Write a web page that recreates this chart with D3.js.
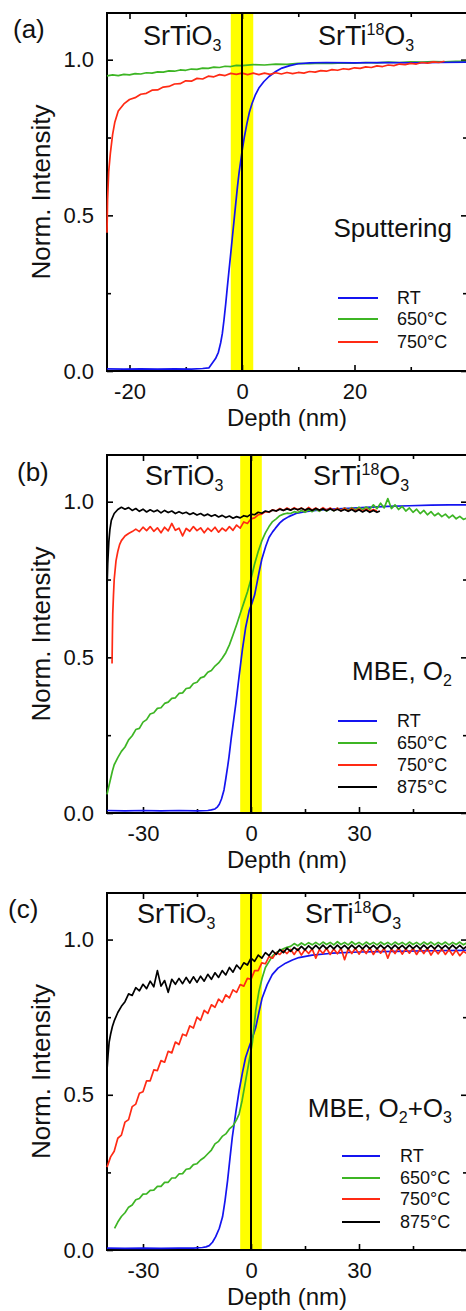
<!DOCTYPE html>
<html><head><meta charset="utf-8">
<script src="https://cdn.jsdelivr.net/npm/d3@7"></script>
<style>
html,body{margin:0;padding:0;background:#fff;}
svg{display:block;font-family:"Liberation Sans",Arial,Helvetica,sans-serif;}
</style></head><body>
<svg id="chart" width="466" height="1311"></svg>
<script>
// ---------------- DATA (depth nm, normalized intensity) ----------------
const seriesNames = ["RT", "650°C", "750°C", "875°C"];
const yMajorTicks = [0, 0.5, 1.0];
const yMinorTicks = [0.25, 0.75];
const xMajorTicksA = [-20, 0, 20];
const xMinorTicksA = [-10, 10, 30];
const xMajorTicksBC = [-30, 0, 30];
const xMinorTicksBC = [-15, 15, 45];

// (a) Sputtering
const a_RT = [[-24,0.007],[-21,0.006],[-18,0.007],[-15,0.006],[-12,0.007],[-9,0.006],[-7,0.008],[-5.9,0.01],[-5.3,0.025],[-4.7,0.04],[-4.2,0.06],[-3.8,0.09],[-3.5,0.12],[-3.2,0.164],[-2.9,0.215],[-2.6,0.271],[-2.3,0.325],[-2,0.378],[-1.7,0.432],[-1.4,0.486],[-1.1,0.54],[-0.8,0.593],[-0.5,0.64],[-0.2,0.678],[0,0.705],[0.4,0.75],[0.9,0.797],[1.3,0.83],[1.8,0.86],[2.4,0.888],[3,0.909],[3.9,0.93],[4.8,0.946],[6,0.962],[7.1,0.973],[8.5,0.981],[10,0.987],[12,0.99],[15,0.991],[20,0.99],[25,0.991],[30,0.99],[35,0.991],[40,0.992]];
const a_650 = [[-24,0.948],[-23,0.951],[-22,0.949],[-21,0.953],[-20,0.951],[-19,0.955],[-18,0.954],[-17,0.958],[-16,0.957],[-15,0.961],[-14,0.96],[-13,0.964],[-12,0.963],[-11,0.967],[-10,0.966],[-9,0.97],[-8,0.969],[-7,0.973],[-6,0.972],[-5,0.976],[-4,0.975],[-3,0.979],[-2,0.978],[-1,0.982],[0,0.981],[2,0.984],[4,0.983],[6,0.986],[8,0.985],[10,0.988],[12,0.987],[14,0.989],[16,0.988],[18,0.99],[20,0.989],[22,0.991],[24,0.99],[26,0.992],[28,0.991],[30,0.993],[32,0.992],[34,0.994],[36,0.993],[38,0.995],[40,0.995]];
const a_750 = [[-24,0.444],[-23.9,0.55],[-23.7,0.64],[-23.4,0.7],[-23,0.76],[-22.6,0.8],[-22,0.835],[-21,0.858],[-20,0.872],[-19,0.878],[-18,0.889],[-17,0.892],[-16,0.902],[-15,0.903],[-14,0.912],[-13,0.914],[-12,0.922],[-11,0.923],[-10,0.932],[-9,0.931],[-8,0.94],[-7,0.938],[-6,0.947],[-5,0.945],[-4,0.952],[-3,0.949],[-2,0.956],[-1,0.953],[0,0.957],[1,0.952],[2,0.957],[3,0.952],[4,0.957],[5,0.953],[6,0.958],[7,0.954],[8,0.959],[9,0.955],[10,0.959],[11,0.957],[12,0.962],[13,0.96],[14,0.965],[15,0.963],[16,0.968],[17,0.966],[18,0.971],[19,0.969],[20,0.974],[21,0.972],[22,0.977],[23,0.975],[24,0.98],[25,0.978],[26,0.983],[27,0.981],[28,0.986],[29,0.984],[30,0.988],[31,0.986],[32,0.991],[33,0.989],[34,0.993],[35,0.991],[36,0.995]];

// (b) MBE, O2
const b_RT = [[-40,0.008],[-35,0.007],[-30,0.008],[-25,0.007],[-20,0.008],[-15,0.007],[-12,0.008],[-11,0.01],[-10,0.013],[-9.3,0.02],[-8.8,0.028],[-8.2,0.045],[-7.5,0.074],[-7,0.11],[-6.5,0.148],[-6.1,0.181],[-5.5,0.24],[-4.8,0.3],[-4.2,0.352],[-3.3,0.44],[-2.4,0.524],[-1.5,0.595],[-0.5,0.65],[0.3,0.675],[1,0.7],[1.6,0.735],[2.2,0.771],[3,0.815],[4.1,0.857],[5,0.885],[6,0.903],[6.8,0.915],[8,0.932],[9,0.942],[10.5,0.952],[12.5,0.962],[15,0.968],[18,0.972],[22.5,0.976],[27,0.979],[32,0.982],[38,0.985],[44,0.987],[50,0.989],[55,0.99],[60,0.99]];
const b_650 = [[-40,0.06],[-39.7,0.075],[-39.3,0.095],[-39,0.11],[-38.5,0.135],[-38,0.155],[-37,0.178],[-36,0.198],[-35,0.212],[-34,0.235],[-33,0.248],[-32,0.268],[-31,0.272],[-30,0.292],[-29,0.3],[-28,0.318],[-27,0.322],[-26,0.336],[-25,0.338],[-24,0.352],[-23,0.356],[-22,0.368],[-21,0.37],[-20,0.384],[-19,0.386],[-18,0.4],[-17,0.402],[-16,0.416],[-15,0.42],[-14,0.434],[-13,0.438],[-12,0.452],[-11,0.458],[-10,0.472],[-9,0.482],[-8,0.497],[-7,0.515],[-6,0.54],[-5,0.572],[-4,0.605],[-3,0.64],[-2,0.675],[-1,0.71],[0,0.752],[1,0.8],[2,0.84],[3,0.874],[4,0.9],[5,0.92],[6,0.936],[7,0.945],[8,0.955],[9,0.96],[10,0.963],[11,0.962],[12,0.968],[13,0.965],[14,0.972],[15,0.966],[16,0.974],[17,0.968],[18,0.976],[19,0.969],[20,0.977],[21,0.97],[22,0.978],[23,0.971],[24,0.979],[25,0.972],[26,0.98],[27,0.973],[28,0.981],[29,0.974],[30,0.982],[31,0.975],[32,0.983],[33,0.976],[34,0.99],[35,0.978],[36,0.995],[37,0.98],[38,1.01],[39,0.978],[40,0.99],[41,0.975],[42,0.985],[43,0.97],[44,0.98],[45,0.966],[46,0.976],[47,0.962],[48,0.972],[49,0.958],[50,0.968],[51,0.955],[52,0.963],[53,0.952],[54,0.96],[55,0.948],[56,0.957],[57,0.945],[58,0.953],[59,0.943],[60,0.948]];
const b_750 = [[-38.6,0.48],[-38.5,0.57],[-38.4,0.64],[-38.2,0.7],[-38,0.75],[-37.5,0.81],[-37,0.84],[-36.5,0.862],[-36,0.875],[-35,0.89],[-34,0.898],[-33,0.904],[-32,0.912],[-31,0.904],[-30,0.918],[-29,0.907],[-28,0.92],[-27,0.905],[-26,0.916],[-25,0.9],[-24,0.918],[-23,0.906],[-22,0.93],[-21,0.908],[-20,0.915],[-19,0.89],[-18,0.914],[-17,0.905],[-16,0.92],[-15,0.907],[-14,0.916],[-13,0.9],[-12,0.915],[-11,0.905],[-10,0.918],[-9,0.902],[-8,0.915],[-7,0.906],[-6,0.92],[-5,0.908],[-4,0.925],[-3,0.915],[-2,0.935],[-1,0.93],[0,0.945],[1,0.948],[2,0.958],[3,0.96],[4,0.968],[5,0.966],[6,0.974],[7,0.97],[8,0.978],[9,0.972],[10,0.98],[11,0.973],[12,0.981],[13,0.974],[14,0.98],[15,0.972],[16,0.982],[17,0.973],[18,0.98],[19,0.972],[20,0.981],[21,0.973],[22,0.98],[23,0.972],[24,0.979],[25,0.971],[26,0.979],[27,0.97],[28,0.978],[29,0.97],[30,0.977],[31,0.969],[32,0.977],[33,0.969],[34,0.975],[35,0.97]];
const b_875 = [[-40,0.72],[-39.8,0.8],[-39.5,0.87],[-39.2,0.91],[-38.8,0.94],[-38,0.962],[-37,0.975],[-36,0.982],[-35,0.976],[-34,0.981],[-33,0.972],[-32,0.978],[-31,0.969],[-30,0.976],[-29,0.967],[-28,0.974],[-27,0.968],[-26,0.973],[-25,0.964],[-24,0.972],[-23,0.965],[-22,0.97],[-21,0.962],[-20,0.968],[-19,0.962],[-18,0.966],[-17,0.959],[-16,0.964],[-15,0.957],[-14,0.962],[-13,0.955],[-12,0.96],[-11,0.953],[-10,0.958],[-9,0.951],[-8,0.956],[-7,0.949],[-6,0.954],[-5,0.947],[-4,0.952],[-3,0.948],[-2,0.955],[-1,0.952],[0,0.96],[1,0.958],[2,0.966],[3,0.963],[4,0.97],[5,0.967],[6,0.973],[7,0.97],[8,0.976],[9,0.972],[10,0.977],[11,0.973],[12,0.978],[13,0.974],[14,0.979],[15,0.973],[16,0.978],[17,0.972],[18,0.978],[19,0.973],[20,0.977],[21,0.971],[22,0.977],[23,0.971],[24,0.976],[25,0.97],[26,0.975],[27,0.969],[28,0.975],[29,0.968],[30,0.974],[31,0.967],[32,0.973],[33,0.966],[34,0.972],[35,0.966],[35.8,0.97]];

// (c) MBE, O2+O3
const c_RT = [[-40,0.006],[-35,0.005],[-30,0.006],[-25,0.005],[-20,0.006],[-16,0.006],[-13.5,0.008],[-12.5,0.01],[-11.6,0.014],[-10.7,0.025],[-9.8,0.043],[-8.8,0.07],[-7.9,0.107],[-7.2,0.16],[-6.5,0.224],[-5.8,0.3],[-5.2,0.363],[-4.2,0.445],[-3.3,0.513],[-2.4,0.57],[-1.5,0.62],[-0.5,0.655],[0.4,0.684],[1.3,0.716],[2.2,0.765],[3.1,0.812],[4.5,0.855],[5.9,0.887],[7.5,0.908],[9.6,0.924],[11.5,0.934],[13.3,0.942],[17,0.95],[22.5,0.956],[30,0.96],[40,0.962],[50,0.964],[60,0.965]];
const c_650 = [[-37.9,0.07],[-37,0.09],[-36,0.108],[-35,0.12],[-34,0.138],[-33,0.145],[-32,0.162],[-31,0.166],[-30,0.18],[-29,0.181],[-28,0.192],[-27,0.193],[-26,0.205],[-25,0.205],[-24,0.218],[-23,0.218],[-22,0.232],[-21,0.232],[-20,0.245],[-19,0.246],[-18,0.26],[-17,0.262],[-16,0.275],[-15,0.278],[-14,0.29],[-13,0.298],[-12,0.31],[-11,0.322],[-10,0.342],[-9,0.35],[-8,0.366],[-7,0.374],[-6,0.39],[-5,0.4],[-4,0.42],[-3.3,0.438],[-2.5,0.48],[-1.5,0.545],[-0.5,0.61],[0.4,0.67],[1.3,0.77],[2.2,0.833],[3.1,0.876],[4,0.91],[5,0.929],[6,0.948],[7,0.958],[8,0.965],[9,0.97],[10,0.975],[11,0.978],[12,0.987],[13,0.98],[14,0.989],[15,0.982],[16,0.99],[17,0.983],[18,0.991],[19,0.983],[20,0.992],[21,0.984],[22,0.991],[23,0.983],[24,0.993],[25,0.984],[26,0.991],[27,0.983],[28,0.993],[29,0.984],[30,0.991],[31,0.983],[32,0.992],[33,0.984],[34,0.991],[35,0.983],[36,0.992],[37,0.984],[38,0.991],[39,0.983],[40,0.992],[41,0.984],[42,0.991],[43,0.983],[44,0.992],[45,0.984],[46,0.991],[47,0.983],[48,0.992],[49,0.984],[50,0.992],[51,0.983],[52,0.991],[53,0.984],[54,0.992],[55,0.983],[56,0.991],[57,0.984],[58,0.992],[59,0.983],[60,0.99]];
const c_750 = [[-40,0.267],[-39,0.3],[-38,0.318],[-37,0.36],[-36,0.37],[-35,0.412],[-34,0.42],[-33,0.462],[-32,0.47],[-31,0.505],[-30,0.51],[-29,0.545],[-28,0.545],[-27,0.58],[-26,0.578],[-25,0.61],[-24,0.605],[-23,0.64],[-22,0.635],[-21,0.67],[-20,0.662],[-19,0.695],[-18,0.69],[-17,0.722],[-16,0.715],[-15,0.75],[-14,0.74],[-13,0.772],[-12,0.762],[-11,0.79],[-10,0.782],[-9,0.808],[-8,0.798],[-7,0.822],[-6,0.812],[-5,0.838],[-4,0.83],[-3,0.855],[-2,0.85],[-1,0.875],[0,0.872],[1,0.9],[2,0.9],[3,0.925],[4,0.922],[5,0.945],[6,0.94],[7,0.958],[8,0.952],[9,0.965],[10,0.955],[11,0.968],[12,0.952],[13,0.97],[14,0.95],[15,0.968],[16,0.955],[17,0.97],[18,0.94],[19,0.968],[20,0.955],[21,0.972],[22,0.952],[23,0.97],[24,0.954],[25,0.972],[26,0.935],[27,0.97],[28,0.955],[29,0.972],[30,0.953],[31,0.97],[32,0.955],[33,0.973],[34,0.952],[35,0.97],[36,0.956],[37,0.972],[38,0.94],[39,0.97],[40,0.955],[41,0.973],[42,0.953],[43,0.97],[44,0.956],[45,0.972],[46,0.952],[47,0.97],[48,0.955],[49,0.972],[50,0.95],[51,0.968],[52,0.954],[53,0.97],[54,0.952],[55,0.968],[56,0.95],[57,0.966],[58,0.948],[59,0.962],[60,0.955]];
const c_875 = [[-40,0.58],[-39.7,0.63],[-39.4,0.67],[-39,0.695],[-38.5,0.72],[-38,0.738],[-37,0.765],[-36,0.785],[-35,0.8],[-34,0.825],[-33,0.82],[-32,0.845],[-31,0.835],[-30,0.856],[-29,0.842],[-28,0.866],[-27,0.848],[-26,0.9],[-25,0.85],[-24,0.868],[-23,0.83],[-22,0.872],[-21,0.856],[-20,0.875],[-19,0.858],[-18,0.878],[-17,0.86],[-16,0.88],[-15,0.862],[-14,0.882],[-13,0.866],[-12,0.888],[-11,0.872],[-10,0.893],[-9,0.878],[-8,0.9],[-7,0.886],[-6,0.91],[-5,0.895],[-4,0.918],[-3,0.905],[-2,0.925],[-1,0.918],[0,0.94],[1,0.93],[2,0.95],[3,0.94],[4,0.958],[5,0.948],[6,0.964],[7,0.952],[8,0.968],[9,0.958],[10,0.972],[11,0.962],[12,0.975],[13,0.965],[14,0.978],[15,0.967],[16,0.98],[17,0.969],[18,0.981],[19,0.97],[20,0.982],[21,0.97],[22,0.981],[23,0.97],[24,0.982],[25,0.971],[26,0.981],[27,0.97],[28,0.982],[29,0.971],[30,0.981],[31,0.97],[32,0.982],[33,0.971],[34,0.981],[35,0.97],[36,0.982],[37,0.971],[38,0.981],[39,0.97],[40,0.982],[41,0.971],[42,0.981],[43,0.97],[44,0.982],[45,0.971],[46,0.981],[47,0.97],[48,0.982],[49,0.971],[50,0.981],[51,0.97],[52,0.982],[53,0.971],[54,0.981],[55,0.97],[56,0.982],[57,0.971],[58,0.981],[59,0.97],[60,0.979]];

// ---------------- STYLE / LAYOUT ----------------
const colors = {"RT":"#1414f0","650°C":"#3db524","750°C":"#ff2a14","875°C":"#000000"};
const X0 = 107, X1 = 467;

const panels = [
  {letter:"(a)", lx:13, ly:38, top:13, bottom:371, xDomain:[-24,40], xMaj:xMajorTicksA, xMin:xMinorTicksA, band:[-2,2],
   series:[["650°C",a_650],["RT",a_RT],["750°C",a_750]], legendOrder:["RT","650°C","750°C"],
   legendRows:[298,319,342], legX:338, legX2:378, legTX:397,
   note:[{t:"Sputtering"}], noteY:237, stoX:143, sto18X:318, stoY:45},
  {letter:"(b)", lx:17, ly:481, top:455, bottom:813, xDomain:[-40,60], xMaj:xMajorTicksBC, xMin:xMinorTicksBC, band:[-3,3],
   series:[["RT",b_RT],["650°C",b_650],["750°C",b_750],["875°C",b_875]], legendOrder:seriesNames,
   legendRows:[721,743,765,787], legX:338, legX2:377, legTX:397,
   note:[{t:"MBE, O"},{t:"2",sub:true}], noteY:680, stoX:145, sto18X:313, stoY:485},
  {letter:"(c)", lx:8, ly:918, top:893, bottom:1250, xDomain:[-40,60], xMaj:xMajorTicksBC, xMin:xMinorTicksBC, band:[-3,3],
   series:[["RT",c_RT],["650°C",c_650],["750°C",c_750],["875°C",c_875]], legendOrder:seriesNames,
   legendRows:[1156,1178,1199,1222], legX:342, legX2:380, legTX:400,
   note:[{t:"MBE, O"},{t:"2",sub:true},{t:"+O"},{t:"3",sub:true}], noteY:1117, stoX:137, sto18X:305, stoY:923}
];

const svg = d3.select("#chart");

function richText(sel, parts, small) {
  let off = 0;
  parts.forEach(p => {
    const target = p.sup ? -10 : (p.sub ? 6 : 0);
    const ts = sel.append("tspan").attr("dy", target - off).text(p.t);
    if (p.sup || p.sub) ts.style("font-size", small + "px");
    off = target;
  });
}

panels.forEach((P, i) => {
  const g = svg.append("g");
  const x = d3.scaleLinear().domain(P.xDomain).range([X0, X1]);
  const y = d3.scaleLinear().domain([0, 1.15]).range([P.bottom, P.top]);

  const clipId = "clip" + i;
  svg.append("clipPath").attr("id", clipId).append("rect")
    .attr("x", X0 - 1).attr("y", P.top).attr("width", X1 - X0 + 1).attr("height", P.bottom - P.top + 1);

  // yellow interface band
  g.append("rect").attr("x", x(P.band[0])).attr("y", P.top)
    .attr("width", x(P.band[1]) - x(P.band[0])).attr("height", P.bottom - P.top)
    .attr("fill", "#ffff00");

  // axis frame
  g.append("rect").attr("x", X0).attr("y", P.top).attr("width", X1 - X0).attr("height", P.bottom - P.top)
    .attr("fill", "none").attr("stroke", "#000").attr("stroke-width", 2);

  // ticks
  const tickStyle = a => { a.select(".domain").remove(); a.selectAll(".tick line").attr("stroke", "#000").attr("stroke-width", 1.6); };
  const labelStyle = a => a.selectAll("text").attr("font-size", 22).attr("font-family", "Liberation Sans, Arial, sans-serif").attr("fill", "#111");
  g.append("g").attr("transform", `translate(0,${P.bottom})`)
    .call(d3.axisBottom(x).tickValues(P.xMaj).tickSize(-6).tickPadding(12).tickFormat(d => String(d)))
    .call(tickStyle).call(labelStyle);
  g.append("g").attr("transform", `translate(0,${P.bottom})`)
    .call(d3.axisBottom(x).tickValues(P.xMin).tickSize(-4).tickFormat("")).call(tickStyle);
  g.append("g").attr("transform", `translate(0,${P.top})`)
    .call(d3.axisTop(x).tickValues(P.xMaj).tickSize(-6).tickFormat("")).call(tickStyle);
  g.append("g").attr("transform", `translate(0,${P.top})`)
    .call(d3.axisTop(x).tickValues(P.xMin).tickSize(-4).tickFormat("")).call(tickStyle);
  g.append("g").attr("transform", `translate(${X0},0)`)
    .call(d3.axisLeft(y).tickValues(yMajorTicks).tickSize(-6).tickPadding(13).tickFormat(d3.format(".1f")))
    .call(tickStyle).call(labelStyle);
  g.append("g").attr("transform", `translate(${X0},0)`)
    .call(d3.axisLeft(y).tickValues(yMinorTicks).tickSize(-4).tickFormat("")).call(tickStyle);
  g.append("g").attr("transform", `translate(${X1},0)`)
    .call(d3.axisRight(y).tickValues(yMajorTicks).tickSize(-6).tickFormat("")).call(tickStyle);
  g.append("g").attr("transform", `translate(${X1},0)`)
    .call(d3.axisRight(y).tickValues(yMinorTicks).tickSize(-4).tickFormat("")).call(tickStyle);

  // curves
  const line = d3.line().x(d => x(d[0])).y(d => y(d[1]));
  const cg = g.append("g").attr("clip-path", `url(#${clipId})`);
  P.series.forEach(([name, data]) => {
    cg.append("path").datum(data).attr("d", line)
      .attr("fill", "none").attr("stroke", colors[name]).attr("stroke-width", 1.7)
      .attr("stroke-linejoin", "round");
  });

  // interface line at depth 0
  g.append("line").attr("x1", x(0)).attr("x2", x(0)).attr("y1", P.top).attr("y2", P.bottom)
    .attr("stroke", "#000").attr("stroke-width", 2);

  // axis titles
  g.append("text").attr("transform", `translate(50,${(P.top + P.bottom) / 2}) rotate(-90)`)
    .attr("text-anchor", "middle").attr("font-size", 26).attr("fill", "#111").text("Norm. Intensity");
  g.append("text").attr("x", (X0 + X1) / 2).attr("y", P.bottom + 55)
    .attr("text-anchor", "middle").attr("font-size", 24).attr("fill", "#111").text("Depth (nm)");

  // panel letter
  g.append("text").attr("x", P.lx).attr("y", P.ly).attr("font-size", 26).attr("fill", "#111").text(P.letter);

  // region labels
  const t1 = g.append("text").attr("x", P.stoX).attr("y", P.stoY).attr("font-size", 27).attr("fill", "#111");
  richText(t1, [{t:"SrTiO"},{t:"3",sub:true}], 16);
  const t2 = g.append("text").attr("x", P.sto18X).attr("y", P.stoY).attr("font-size", 27).attr("fill", "#111");
  richText(t2, [{t:"SrTi"},{t:"18",sup:true},{t:"O"},{t:"3",sub:true}], 16);

  // note
  const nt = g.append("text").attr("x", 452).attr("y", P.noteY).attr("text-anchor", "end")
    .attr("font-size", 26).attr("fill", "#111");
  richText(nt, P.note, 16);

  // legend
  P.legendOrder.forEach((name, k) => {
    const yy = P.legendRows[k];
    g.append("line").attr("x1", P.legX).attr("x2", P.legX2).attr("y1", yy).attr("y2", yy)
      .attr("stroke", colors[name]).attr("stroke-width", 2);
    g.append("text").attr("x", P.legTX).attr("y", yy).attr("dy", "0.36em")
      .attr("font-size", 18).attr("fill", "#111").text(name);
  });
});
</script>
</body></html>
